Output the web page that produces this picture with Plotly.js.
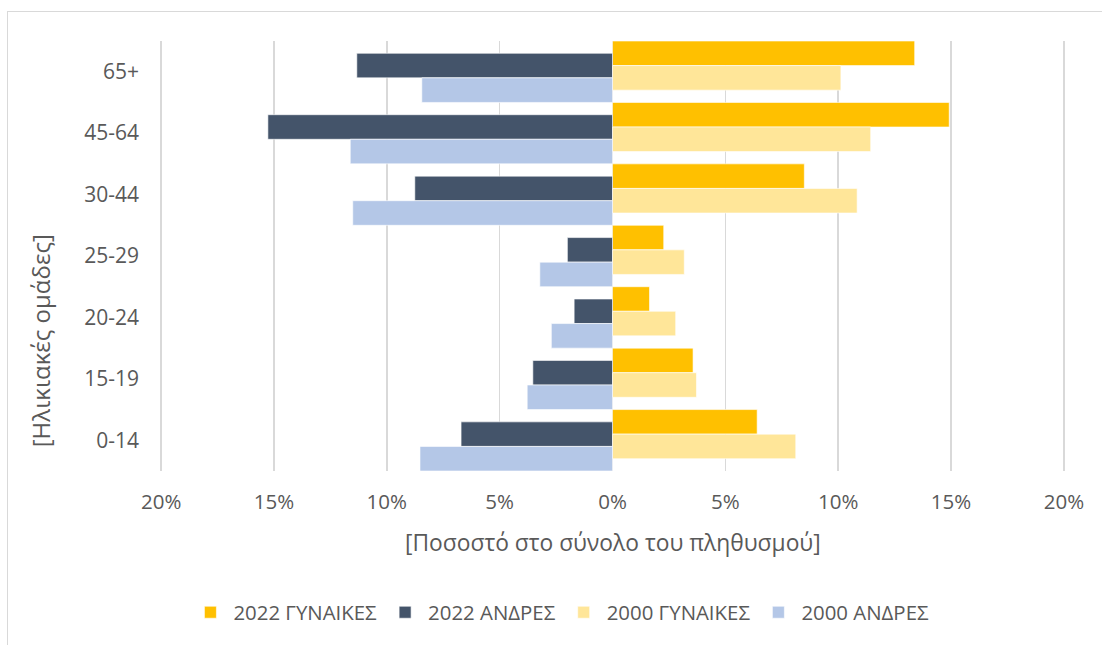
<!DOCTYPE html>
<html>
<head>
<meta charset="utf-8">
<script src="https://cdn.plot.ly/plotly-3.0.1.min.js"></script>
<style>
  html, body { margin: 0; padding: 0; background: #ffffff; }
  #wrap { position: relative; width: 1102px; height: 645px; }
  #chart { width: 1102px; height: 645px; }
  #frame { position: absolute; left: 7px; top: 11px; width: 1200px; height: 700px;
           border-left: 1px solid #d9d9d9; border-top: 1px solid #d9d9d9; pointer-events: none; }
</style>
</head>
<body>
<div id="wrap">
  <div id="chart"></div>
  <div id="frame"></div>
</div>
<script>
// Age groups (bottom to top)
const ageGroups = ['0-14', '15-19', '20-24', '25-29', '30-44', '45-64', '65+'];

// Share of total population (%)
const women2022 = [6.41, 3.57, 1.64, 2.27, 8.50, 14.92, 13.39];
const men2022   = [6.71, 3.53, 1.70, 2.00, 8.76, 15.27, 11.33];
const women2000 = [8.12, 3.72, 2.80, 3.18, 10.84, 11.44, 10.12];
const men2000   = [8.53, 3.78, 2.71, 3.22, 11.51, 11.62, 8.45];

const seriesNames = ['2022 ΓΥΝΑΙΚΕΣ', '2022 ΑΝΔΡΕΣ', '2000 ΓΥΝΑΙΚΕΣ', '2000 ΑΝΔΡΕΣ'];
const tickValues = [-20, -15, -10, -5, 0, 5, 10, 15, 20];
const tickLabels = ['20%', '15%', '10%', '5%', '0%', '5%', '10%', '15%', '20%'];

const colors = ['#FFC000', '#44546A', '#FFE699', '#B4C7E7'];
const seriesData = [women2022, men2022.map(v => -v), women2000, men2000.map(v => -v)];
const offsets = [0.1, -0.1, -0.3, -0.5];

const textColor = '#595959';
const fontFamily = '"Open Sans", "Noto Sans", sans-serif';

const traces = seriesData.map((vals, i) => ({
  type: 'bar',
  orientation: 'h',
  name: seriesNames[i],
  y: ageGroups,
  x: vals,
  width: 0.4,
  offset: offsets[i],
  marker: { color: colors[i], line: { color: 'rgba(255,255,255,0.6)', width: 1 } },
  hovertemplate: '%{y}: %{x:.2f}%<extra>' + seriesNames[i] + '</extra>'
}));

const layout = {
  width: 1102,
  height: 645,
  paper_bgcolor: '#ffffff',
  plot_bgcolor: '#ffffff',
  margin: { l: 160, r: 37, t: 41, b: 172 },
  barmode: 'overlay',
  font: { family: fontFamily, color: textColor, size: 20 },
  xaxis: {
    range: [-20.05, 20.05],
    tickvals: tickValues,
    ticktext: tickLabels,
    showgrid: true,
    gridcolor: '#d9d9d9',
    gridwidth: 1.5,
    zeroline: true,
    zerolinecolor: '#d9d9d9',
    zerolinewidth: 1.5,
    showline: false,
    ticks: '',
    ticklabelstandoff: 16,
    tickfont: { size: 20.5, color: textColor, family: fontFamily },
    fixedrange: true
  },
  yaxis: {
    type: 'category',
    categoryorder: 'array',
    categoryarray: ageGroups,
    range: [-0.5, 6.5],
    showgrid: false,
    zeroline: false,
    showline: false,
    ticks: '',
    ticklabelstandoff: 20,
    tickfont: { size: 21, color: textColor, family: fontFamily },
    fixedrange: true
  },
  annotations: [
    {
      text: '[Ποσοστό στο σύνολο του πληθυσμού]',
      xref: 'paper', yref: 'paper',
      x: 0.5, y: -0.1655,
      xanchor: 'center', yanchor: 'middle',
      showarrow: false,
      font: { size: 22.8, color: textColor, family: fontFamily }
    },
    {
      text: '[Ηλικιακές ομάδες]',
      xref: 'paper', yref: 'paper',
      x: -0.132, y: 0.303,
      xanchor: 'center', yanchor: 'middle',
      textangle: -90,
      showarrow: false,
      font: { size: 24, color: textColor, family: fontFamily }
    }
  ],
  showlegend: true,
  legend: {
    orientation: 'h',
    x: 0.443, xanchor: 'center',
    y: -0.329, yanchor: 'middle',
    traceorder: 'normal',
    itemwidth: 36,
    font: { size: 20.4, color: textColor, family: fontFamily },
    bgcolor: 'rgba(0,0,0,0)'
  }
};

Plotly.newPlot('chart', traces, layout, { displayModeBar: false, staticPlot: true });
</script>
</body>
</html>
